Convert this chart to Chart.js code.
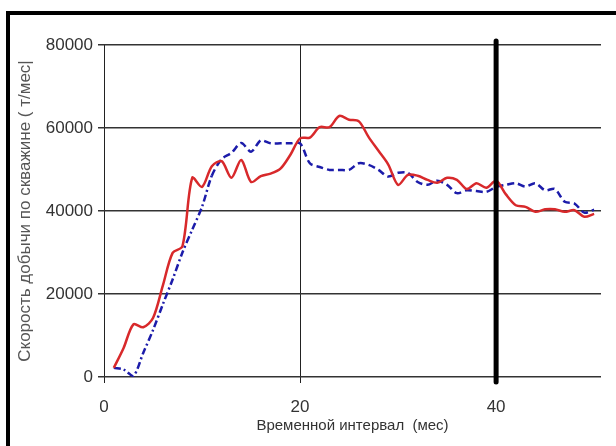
<!DOCTYPE html>
<html>
<head>
<meta charset="utf-8">
<script src="https://cdn.jsdelivr.net/npm/chart.js@4.4.0/dist/chart.umd.min.js"></script>
<style>
  html, body { margin: 0; padding: 0; background: #fff; }
  #wrap { width: 616px; height: 446px; }
</style>
</head>
<body>
<div id="wrap"><canvas id="myChart" width="616" height="446"></canvas></div>
<script>
const months = [1,2,3,4,5,6,7,8,9,10,11,12,13,14,15,16,17,18,19,20,21,22,23,24,25,26,27,28,29,30,31,32,33,34,35,36,37,38,39,40,41,42,43,44,45,46,47,48,49,50]
const factRate = [2200,7000,12700,12000,14200,22000,29900,31500,48000,45800,50800,52000,48000,52300,47000,48400,49000,50200,53500,57500,57700,60200,60200,62900,62000,61600,57800,54500,51200,46300,48700,48500,47500,46800,48000,47500,45300,46700,45600,47300,44000,41400,41000,39800,40400,40400,39800,40200,38600,39300]
const modelRate = [2200,1800,300,5800,11300,17500,23500,30000,35500,41000,48500,52500,54000,56400,54300,57000,56300,56300,56300,56300,51500,50600,49900,49900,49900,51500,51100,49900,48300,49200,49200,47000,46300,47300,46300,44300,45000,44800,44600,45800,46300,46700,45900,46700,45000,45300,42200,41800,39600,40300]
const xTicks = [0, 20, 40]
const yTicks = [0, 20000, 40000, 60000, 80000]
const markerMonth = 40

const yTitle = 'Скорость добычи по скважине ( т/мес|'
const xTitle = 'Временной интервал  (мес)'

const sans = "'Liberation Sans', Arial, sans-serif"

const decor = {
    id: 'decor',
    beforeDraw(chart) {
        const c = chart.ctx
        c.save()
        c.fillStyle = '#fff'
        c.fillRect(0, 0, chart.width, chart.height)
        c.strokeStyle = '#000'
        c.lineWidth = 4
        c.strokeRect(8, 13, 700, 600)
        c.restore()
    },
    afterDatasetsDraw(chart) {
        const c = chart.ctx
        const x = chart.scales.x.getPixelForValue(markerMonth)
        c.save()
        c.strokeStyle = '#000'
        c.lineWidth = 5
        c.lineCap = 'round'
        c.beginPath()
        c.moveTo(x, chart.chartArea.top - 4)
        c.lineTo(x, chart.chartArea.bottom + 5)
        c.stroke()
        c.restore()
    }
}

const data = {
    datasets: [{
        label: 'fact',
        data: months.map((m, i) => ({x: m, y: factRate[i]})),
        borderColor: '#d8292b',
        borderWidth: 2.5,
        pointRadius: 0,
        tension: 0.3
    }, {
        label: 'model',
        data: months.map((m, i) => ({x: m, y: modelRate[i]})),
        borderColor: '#1c1caa',
        borderWidth: 2.5,
        pointRadius: 0,
        tension: 0.3,
        segment: {
            borderDash: ctx => ctx.p0.parsed.x < 11 ? [7, 3, 2, 3] : [7, 4]
        }
    }]
}

const config = {
    type: 'line',
    data: data,
    plugins: [decor],
    options: {
        responsive: false,
        animation: false,
        layout: { padding: { left: 12, top: 45, right: 15, bottom: 5 } },
        plugins: { legend: { display: false }, tooltip: { enabled: false } },
        scales: {
            x: {
                type: 'linear',
                min: 0,
                max: 50.7,
                afterFit: s => { s.height = 64 },
                afterBuildTicks: s => { s.ticks = xTicks.map(v => ({value: v})) },
                border: { display: false },
                grid: { color: '#222', lineWidth: 1, tickLength: 6 },
                ticks: { color: '#333', font: { family: sans, size: 17 }, padding: 14, maxRotation: 0 },
                title: { display: true, text: xTitle, color: '#333', font: { family: sans, size: 15 }, padding: { bottom: 6 } }
            },
            y: {
                min: 0,
                max: 80000,
                afterFit: s => { s.width = 92 },
                afterBuildTicks: s => { s.ticks = yTicks.map(v => ({value: v})) },
                border: { display: false },
                grid: { color: '#333', lineWidth: 1.5, tickLength: 6 },
                ticks: { color: '#333', font: { family: sans, size: 17 }, padding: 5, callback: v => String(v) },
                title: { display: true, text: yTitle, color: '#555', font: { family: sans, size: 17 }, padding: { top: 3 } }
            }
        }
    }
}

const myChart = new Chart(document.getElementById('myChart'), config)
</script>
</body>
</html>
